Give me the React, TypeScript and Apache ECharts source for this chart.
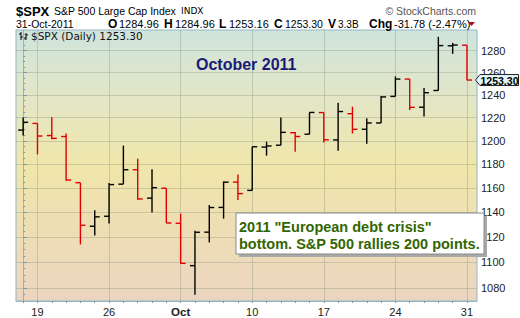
import React, { useEffect, useRef } from 'react';
import * as echarts from 'echarts';

// Trading days shown (16 Sep 2011 - 31 Oct 2011)
const dates = [
  '2011-09-16', '2011-09-19', '2011-09-20', '2011-09-21', '2011-09-22', '2011-09-23',
  '2011-09-26', '2011-09-27', '2011-09-28', '2011-09-29', '2011-09-30',
  '2011-10-03', '2011-10-04', '2011-10-05', '2011-10-06', '2011-10-07',
  '2011-10-10', '2011-10-11', '2011-10-12', '2011-10-13', '2011-10-14',
  '2011-10-17', '2011-10-18', '2011-10-19', '2011-10-20', '2011-10-21',
  '2011-10-24', '2011-10-25', '2011-10-26', '2011-10-27', '2011-10-28',
  '2011-10-31',
];
const opens = [1209.21, 1214.99, 1204.5, 1203.63, 1164.55, 1128.82, 1136.91, 1163.32, 1175.39, 1151.74, 1159.93, 1131.21, 1097.42, 1124.03, 1144.11, 1165.03, 1158.15, 1194.6, 1196.19, 1206.96, 1205.65, 1224.47, 1200.75, 1223.46, 1209.92, 1215.39, 1238.72, 1254.19, 1229.17, 1243.97, 1284.39, 1284.96];
const highs = [1220.06, 1214.99, 1220.39, 1206.3, 1164.55, 1141.72, 1164.19, 1195.86, 1184.71, 1175.87, 1159.93, 1138.99, 1125.12, 1146.07, 1165.55, 1171.4, 1194.91, 1199.24, 1220.25, 1207.46, 1224.61, 1224.47, 1233.1, 1229.64, 1219.53, 1239.03, 1256.55, 1254.19, 1246.28, 1292.66, 1287.08, 1284.96];
const lows = [1204.46, 1188.36, 1201.29, 1166.21, 1114.22, 1121.36, 1131.07, 1163.32, 1150.4, 1139.93, 1131.34, 1098.92, 1074.77, 1115.68, 1134.95, 1150.26, 1158.15, 1187.3, 1196.19, 1190.58, 1205.65, 1198.55, 1191.48, 1206.31, 1197.34, 1215.39, 1238.72, 1226.79, 1221.06, 1243.97, 1277.01, 1253.16];
const closes = [1216.01, 1204.09, 1202.09, 1166.76, 1129.56, 1136.43, 1162.95, 1175.38, 1151.06, 1160.4, 1131.42, 1099.23, 1123.95, 1144.03, 1164.97, 1155.46, 1194.89, 1195.54, 1207.25, 1203.66, 1224.58, 1200.86, 1225.38, 1209.88, 1215.39, 1238.25, 1254.19, 1229.05, 1242.0, 1284.59, 1285.09, 1253.3];
const prevClose = 1209.11; // close of the day before the first bar

const yTicks = [1080, 1100, 1120, 1140, 1160, 1180, 1200, 1220, 1240, 1260, 1280];
const yMinorTicks = [1075, 1080, 1085, 1090, 1095, 1100, 1105, 1110, 1115, 1120, 1125, 1130, 1135, 1140, 1145, 1150, 1155, 1160, 1165, 1170, 1175, 1180, 1185, 1190, 1195, 1200, 1205, 1210, 1215, 1220, 1225, 1230, 1235, 1240, 1245, 1250, 1255, 1260, 1265, 1270, 1275, 1280, 1285, 1290, 1295];
const yMin = 1070;
const yMax = 1299;
const lastPrice = 1253.3;

const ln = Math.log;
const MONTHS = ['Jan', 'Feb', 'Mar', 'Apr', 'May', 'Jun', 'Jul', 'Aug', 'Sep', 'Oct', 'Nov', 'Dec'];

const GRID_LINE = 'rgba(120,140,120,0.32)';
const AXIS_COLOR = '#93b6c4';
const RED = '#e00000';
const ARIAL = 'Arial, "Liberation Sans"';

function txt(text: string, x: number, y: number, font: string, fill: string, align = 'left', z = 10) {
  return {
    type: 'text',
    x,
    y,
    z,
    style: { text, font, fill, textAlign: align, textVerticalAlign: 'middle' },
  };
}

export default function App() {
  const ref = useRef<HTMLDivElement>(null);

  useEffect(() => {
    const chart = echarts.init(ref.current!, null, { renderer: 'svg' });

    const data = dates.map((d, i) => {
      const prev = i === 0 ? prevClose : closes[i - 1];
      return [i, ln(opens[i]), ln(highs[i]), ln(lows[i]), ln(closes[i]), closes[i] >= prev ? 1 : 0];
    });
    const allIdx = dates.map((_, i) => i);
    const mondays = allIdx.filter((i) => new Date(dates[i] + 'T00:00:00Z').getUTCDay() === 1);
    const xLabel = (v: number) => {
      const i = Math.round(v);
      const d = dates[i];
      if (!d) return '';
      const day = +d.slice(8, 10);
      const mon = +d.slice(5, 7) - 1;
      return day <= 7 ? '{b|' + MONTHS[mon] + '}' : String(day);
    };

    const renderItem = (params: any, api: any) => {
      const i = api.value(0);
      const pO = api.coord([i, api.value(1)]);
      const pH = api.coord([i, api.value(2)]);
      const pL = api.coord([i, api.value(3)]);
      const pC = api.coord([i, api.value(4)]);
      const color = api.value(5) ? '#000000' : RED;
      const st = { stroke: color, lineWidth: 1.4 };
      return {
        type: 'group',
        children: [
          { type: 'line', shape: { x1: pH[0], y1: pH[1], x2: pL[0], y2: pL[1] }, style: st },
          { type: 'line', shape: { x1: pO[0] - 5, y1: pO[1], x2: pO[0], y2: pO[1] }, style: st },
          { type: 'line', shape: { x1: pC[0], y1: pC[1], x2: pC[0] + 5, y2: pC[1] }, style: st },
        ],
      };
    };

    const headerGraphics: any[] = [
      txt('$SPX', 16, 11, 'bold 13px ' + ARIAL, '#000'),
      txt('S&P 500 Large Cap Index', 54, 11, '10.5px ' + ARIAL, '#000'),
      txt('INDX', 181, 11, '9px "DejaVu Sans"', '#000'),
      txt('\u00A9 StockCharts.com', 476, 11, '10.5px ' + ARIAL, '#555', 'right'),
      txt('31-Oct-2011', 16, 24, '10.5px ' + ARIAL, '#000'),
      txt('O', 108, 24, 'bold 12px ' + ARIAL, '#000'),
      txt('1284.96', 119, 24, '11px ' + ARIAL, '#000'),
      txt('H', 164, 24, 'bold 12px ' + ARIAL, '#000'),
      txt('1284.96', 175, 24, '11px ' + ARIAL, '#000'),
      txt('L', 219, 24, 'bold 12px ' + ARIAL, '#000'),
      txt('1253.16', 229, 24, '11px ' + ARIAL, '#000'),
      txt('C', 274, 24, 'bold 12px ' + ARIAL, '#000'),
      txt('1253.30', 285, 24, '10.5px ' + ARIAL, '#000'),
      txt('V', 328, 24, 'bold 12px ' + ARIAL, '#000'),
      txt('3.3B', 338, 24, '10px ' + ARIAL, '#000'),
      txt('Chg', 369, 24, 'bold 12px ' + ARIAL, '#000'),
      txt('-31.78 (-2.47%)', 394, 24, '11px ' + ARIAL, '#000'),
      {
        type: 'polygon',
        z: 10,
        shape: { points: [[468, 22], [475, 22], [471.5, 26]] },
        style: { fill: '#a8102c' },
      },
      // legend icon (small OHLC glyph)
      { type: 'line', z: 10, shape: { x1: 21, y1: 32, x2: 21, y2: 40 }, style: { stroke: '#000', lineWidth: 1 } },
      { type: 'line', z: 10, shape: { x1: 19, y1: 34, x2: 21, y2: 34 }, style: { stroke: '#000', lineWidth: 1 } },
      { type: 'line', z: 10, shape: { x1: 21, y1: 37, x2: 23, y2: 37 }, style: { stroke: '#000', lineWidth: 1 } },
      { type: 'line', z: 10, shape: { x1: 26, y1: 33, x2: 26, y2: 40 }, style: { stroke: '#000', lineWidth: 1 } },
      { type: 'line', z: 10, shape: { x1: 24, y1: 38, x2: 26, y2: 38 }, style: { stroke: '#000', lineWidth: 1 } },
      { type: 'line', z: 10, shape: { x1: 26, y1: 35, x2: 28, y2: 35 }, style: { stroke: '#000', lineWidth: 1 } },
      txt('$SPX (Daily) 1253.30', 31, 36, '10.5px "DejaVu Sans"', '#111'),
      txt('October 2011', 196, 64, 'bold 16px ' + ARIAL, '#1a1a78'),
      // annotation box
      { type: 'rect', z: 20, shape: { x: 239, y: 216, width: 248, height: 41 }, style: { fill: '#a9a9a9' } },
      { type: 'rect', z: 21, shape: { x: 236, y: 213, width: 248, height: 41 }, style: { fill: '#ffffff', stroke: '#8a8a8a', lineWidth: 1 } },
      txt('2011 "European debt crisis"', 239, 227, 'bold 14.5px ' + ARIAL, '#336600', 'left', 22),
      txt('bottom. S&P 500 rallies 200 points.', 239, 244, 'bold 14.5px ' + ARIAL, '#336600', 'left', 22),
    ];

    const option: any = {
      animation: false,
      grid: {
        left: 16,
        right: 43,
        top: 30,
        bottom: 17,
        show: true,
        borderColor: AXIS_COLOR,
        borderWidth: 1,
        outerBoundsMode: 'none',
        backgroundColor: new echarts.graphic.LinearGradient(0, 0, 0, 1, [
          { offset: 0, color: '#cfe4dc' },
          { offset: 0.25, color: '#e3e6c6' },
          { offset: 0.5, color: '#f0e6aa' },
          { offset: 1, color: '#ecd5c0' },
        ]),
      },
      xAxis: [
        {
          type: 'value',
          min: -0.5,
          max: 31.7,
          position: 'bottom',
          axisLine: { show: true, lineStyle: { color: AXIS_COLOR } },
          axisTick: { show: false, customValues: mondays },
          axisLabel: {
            customValues: mondays,
            formatter: xLabel,
            margin: 5,
            color: '#222',
            fontSize: 11,
            fontFamily: ARIAL,
            rich: { b: { fontWeight: 'bold', fontSize: 11.5, color: '#222', fontFamily: ARIAL } },
          },
          splitLine: { show: true, lineStyle: { color: GRID_LINE, width: 1 } },
        },
        {
          type: 'value',
          min: -0.5,
          max: 31.7,
          position: 'bottom',
          axisLine: { show: false },
          axisTick: { show: true, customValues: allIdx, length: 2, lineStyle: { color: '#7a9aa8' } },
          axisLabel: { show: false },
          splitLine: { show: false },
        },
      ],
      yAxis: [
        {
          type: 'value',
          position: 'right',
          min: ln(yMin),
          max: ln(yMax),
          axisLine: { show: true, lineStyle: { color: AXIS_COLOR } },
          axisTick: { show: true, customValues: yTicks.map(ln), length: 4, lineStyle: { color: '#7a9aa8' } },
          axisLabel: {
            customValues: yTicks.map(ln),
            formatter: (v: number) => String(Math.round(Math.exp(v))),
            margin: 4,
            color: '#222',
            fontSize: 11,
            fontFamily: ARIAL,
          },
          splitLine: { show: true, lineStyle: { color: GRID_LINE, width: 1 } },
        },
        {
          type: 'value',
          position: 'right',
          min: ln(yMin),
          max: ln(yMax),
          axisLine: { show: false },
          axisTick: { show: true, customValues: yMinorTicks.map(ln), length: 2, lineStyle: { color: '#7a9aa8' } },
          axisLabel: { show: false },
          splitLine: { show: false },
        },
      ],
      series: [
        {
          type: 'custom',
          name: '$SPX',
          xAxisIndex: 0,
          yAxisIndex: 0,
          renderItem,
          encode: { x: 0, y: [1, 2, 3, 4] },
          data,
          clip: false,
          z: 5,
        },
      ],
      graphic: headerGraphics,
    };

    chart.setOption(option);

    const yPx = chart.convertToPixel({ yAxisIndex: 0 } as any, ln(lastPrice)) as unknown as number;
    if (typeof yPx === 'number' && isFinite(yPx)) {
      chart.setOption({
        graphic: [
          ...headerGraphics,
          {
            type: 'polygon',
            z: 30,
            shape: {
              points: [
                [475.5, yPx],
                [480, yPx - 5.5],
                [518.5, yPx - 5.5],
                [518.5, yPx + 5.5],
                [480, yPx + 5.5],
              ],
            },
            style: { fill: '#dff5fc', stroke: '#222', lineWidth: 1 },
          },
          txt(lastPrice.toFixed(2), 499.5, yPx + 0.5, 'bold 10.5px ' + ARIAL, '#000', 'center', 31),
        ],
      });
    }

    return () => chart.dispose();
  }, []);

  return <div ref={ref} style={{ width: 520, height: 318, position: 'absolute', left: 0, top: 0 }} />;
}
